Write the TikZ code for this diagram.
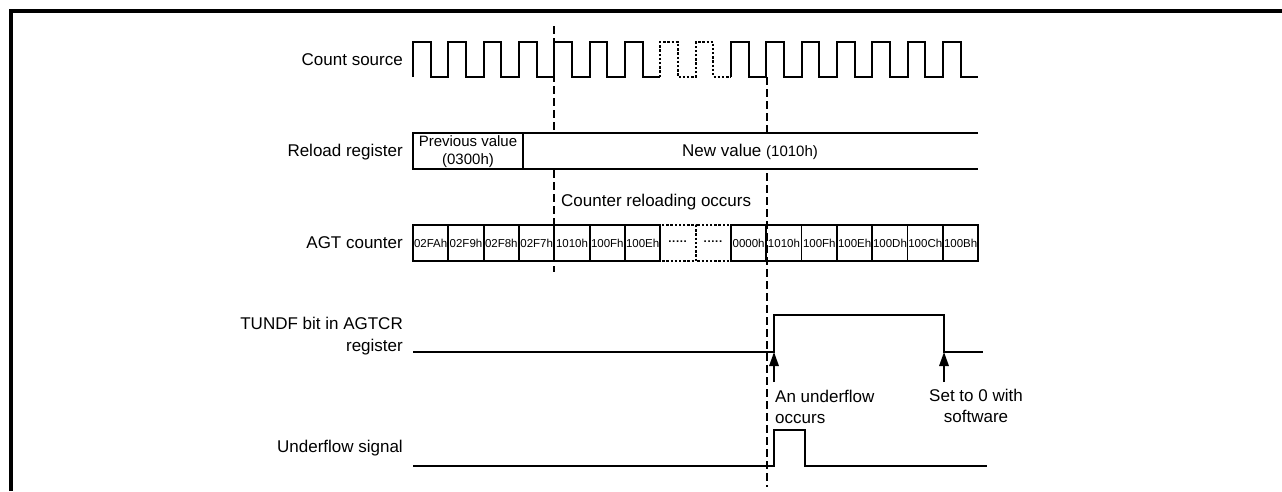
\documentclass[tikz,border=0pt]{standalone}
\usepackage{fontspec}
\setmainfont{Liberation Sans}
\usetikzlibrary{arrows.meta}
\begin{document}
\begin{tikzpicture}[x=1pt,y=-1pt,
  wave/.style={line width=1.9pt, line join=miter},
  dotwave/.style={line width=2pt, dash pattern=on 2.4pt off 1.8pt},
  guide/.style={line width=2pt, dash pattern=on 8pt off 4pt},
  lbl/.style={font=\fontsize{17}{21.5}\selectfont, inner sep=0pt},
  celltxt/.style={font=\fontsize{11.5}{13}\selectfont, inner sep=0pt},
  cellbox/.style={line width=1.7pt},
  dotbox/.style={line width=2pt, dash pattern=on 2.4pt off 1.8pt},
  uparrow/.style={line width=1.6pt, -{Triangle[length=14pt,width=9.5pt]}}]
\useasboundingbox (0,0) rectangle (1282,491);
% frame
\draw[line width=3.3pt] (11,491) -- (11,11) -- (1282,11);
\def\p{35.33}
\def\h{17.67}
% guide lines
\coordinate (g1t) at (554,26);
\coordinate (g1b) at (554,272);
\coordinate (g2t) at (767,77);
\coordinate (g2b) at (767,487);
\draw[guide] (g1t) -- (g1b);
\draw[guide] (g2t) -- (g2b);
% count source
\draw[wave] (413,77) \foreach \k in {0,...,6}{ -- ({413+\k*\p},42) -- ({413+\k*\p+\h},42) -- ({413+\k*\p+\h},77) -- ({413+(\k+1)*\p},77)};
\draw[dotwave] ({413+7*\p},77) \foreach \k in {7,8}{ -- ({413+\k*\p},42) -- ({413+\k*\p+\h},42) -- ({413+\k*\p+\h},77) -- ({413+(\k+1)*\p},77)};
\draw[wave] ({413+9*\p},77) \foreach \k in {9,...,15}{ -- ({413+\k*\p},42) -- ({413+\k*\p+\h},42) -- ({413+\k*\p+\h},77) -- ({413+(\k+1)*\p},77)};
% reload register
\fill[white] (413,133) rectangle (978,169);
\draw[cellbox] (978,133) -- (413,133) -- (413,169) -- (978,169);
\draw[cellbox] (523,133) -- (523,169);
\node[font=\fontsize{15}{18}\selectfont, align=center, inner sep=0pt] (pv) at (468,152) {Previous value\\(0300h)};
\node[lbl] (nv) at (750,152) {New value {\fontsize{15}{18}\selectfont(1010h)}};
% AGT counter
\foreach \i/\t in {0/02FAh,1/02F9h,2/02F8h,3/02F7h,4/1010h,5/100Fh,6/100Eh,9/0000h,10/1010h,11/100Fh,12/100Eh,13/100Dh,14/100Ch,15/100Bh}{
  \draw[cellbox] ({413+\i*\p},225) rectangle ({413+(\i+1)*\p},261);
  \node[celltxt] (c\i) at ({413+(\i+0.5)*\p},243) {\t};
}
\foreach \i in {7,8}{
  \draw[dotbox] ({413+\i*\p},225) rectangle ({413+(\i+1)*\p},261);
  \node[celltxt] (c\i) at ({413+(\i+0.5)*\p},243) {\textbf{·····}};
}
% TUNDF
\coordinate (t1) at (774,352);
\coordinate (t2) at (944,352);
\draw[wave] (413,352) -- (t1) -- (774,315) -- (944,315) -- (t2) -- (983,352);
% underflow signal
\draw[wave] (413,466) -- (774,466) -- (774,430) -- (805,430) -- (805,466) -- (987,466);
% arrows
\coordinate (a1) at (774,382);
\coordinate (a2) at (944,382);
\draw[uparrow] (a1) -- (t1);
\draw[uparrow] (a2) -- (t2);
% labels
\node[lbl, anchor=east] (cs) at (403,60) {Count source};
\node[lbl, anchor=east] (rr) at (403,152) {Reload register};
\node[lbl, anchor=east] (agt) at (403,243) {AGT counter};
\node[lbl, anchor=east, align=right] (tundf) at (403,336) {TUNDF bit in AGTCR\\register};
\node[lbl, anchor=east] (uf) at (403,448) {Underflow signal};
\node[lbl, anchor=west] (cro) at (561,202) {Counter reloading occurs};
\node[lbl, anchor=west, align=left] (auo) at (775,407) {An underflow\\occurs};
\node[lbl, align=center] (st0) at (976,406) {Set to 0 with\\software};
\end{tikzpicture}
\end{document}
